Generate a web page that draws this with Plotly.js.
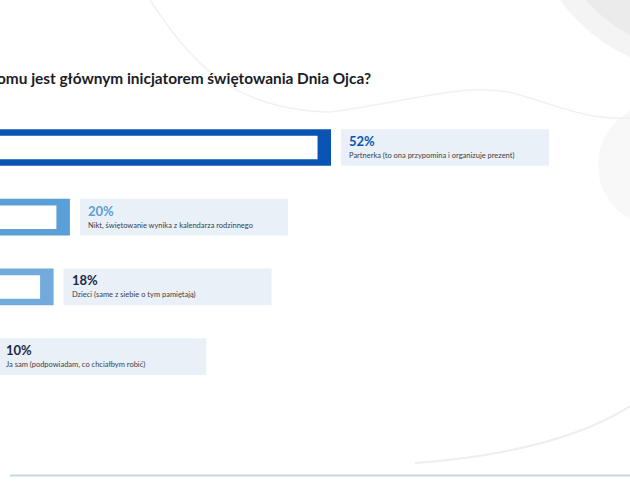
<!DOCTYPE html>
<html>
<head>
<meta charset="utf-8">
<script src="https://cdn.plot.ly/plotly-3.0.1.min.js"></script>
<style>html,body{margin:0;padding:0;background:#fff;}#chart{width:630px;height:500px;}</style>
</head>
<body>
<div id="chart"></div>
<script>
// ---- data ----
const titleText = "Komu jest głównym inicjatorem świętowania Dnia Ojca?";
const categories = [
  "Partnerka (to ona przypomina i organizuje prezent)",
  "Nikt, świętowanie wynika z kalendarza rodzinnego",
  "Dzieci (same z siebie o tym pamiętają)",
  "Ja sam (podpowiadam, co chciałbym robić)"
];
const values = [52, 20, 18, 10];
const valueLabels = values.map(v => v + "%");
const barColors = ["#0a55b3", "#5a9fd6", "#72aadc", "#8dbbe4"];
const pctColors = ["#0a55b3", "#5a9fd6", "#1b2b45", "#1b2b45"];

// ---- geometry helpers (px -> units) ----
const W = 630, H = 500;
const pxPerUnit = 8.16;
const zeroPx = -93.3;
const xr = [(0 - zeroPx) / pxPerUnit, (W - zeroPx) / pxPerUnit];
const rowTop = 147.5, rowStep = 69.7;
const yr = [(H - rowTop) / rowStep, (0 - rowTop) / rowStep];
const u = px => px / pxPerUnit;
const px = x => x / W, py = y => 1 - y / H;

const innerValues = values.map(v => v - u(13.5));
const boxBase = values.map(v => v + u(10));
const boxLen = values.map(() => u(208));

const FONT = "Lato, 'Noto Sans', sans-serif";

const traces = [
  {type: "bar", orientation: "h", y: categories, x: values, width: 0.527,
   marker: {color: barColors}, hoverinfo: "skip"},
  {type: "bar", orientation: "h", y: categories, x: innerValues, width: 0.337,
   marker: {color: "#ffffff"}, hoverinfo: "skip"},
  {type: "bar", orientation: "h", y: categories, x: boxLen, base: boxBase, width: 0.527,
   marker: {color: "#e9f0f7"}, hoverinfo: "skip"}
];

const annotations = [];
categories.forEach((c, i) => {
  annotations.push({x: boxBase[i] + u(6), y: c, xref: "x", yref: "y", xanchor: "left", yanchor: "middle",
    yshift: 6.5, text: "<b>" + valueLabels[i] + "</b>", showarrow: false,
    font: {family: FONT, size: 13, color: pctColors[i]}});
  annotations.push({x: boxBase[i] + u(6), y: c, xref: "x", yref: "y", xanchor: "left", yanchor: "middle",
    yshift: -8, text: c, showarrow: false,
    font: {family: FONT, size: 7.5, color: "#3a3f4a"}});
});
annotations.push({x: px(373), y: py(78), xref: "paper", yref: "paper", xanchor: "right", yanchor: "middle",
  text: "<b>" + titleText + "</b>", showarrow: false,
  font: {family: FONT, size: 15.4, color: "#1a1d26"}});

function circ(cx, cy, r, color) {
  return {type: "circle", xref: "paper", yref: "paper", layer: "below",
    x0: px(cx - r), x1: px(cx + r), y0: py(cy + r), y1: py(cy - r),
    fillcolor: color, line: {width: 0}};
}
function pth(d, color, w) {
  return {type: "path", xref: "paper", yref: "paper", layer: "below", path: d, line: {color: color, width: w}};
}
const P = (x, y) => px(x).toFixed(4) + "," + py(y).toFixed(4);

const shapes = [
  circ(700, -100, 172, "#f4f4f4"),
  circ(700, -100, 152, "#ebebeb"),
  circ(660, 165, 62, "#f8f8f8"),
  pth("M" + P(150, 0) + " C" + P(190, 60) + " " + P(230, 110) + " " + P(330, 112), "#f1f1f1", 1.5),
  pth("M" + P(330, 112) + " C" + P(420, 100) + " " + P(470, 80) + " " + P(520, 95) + " S" + P(590, 120) + " " + P(630, 118), "#f1f1f1", 1.5),
  pth("M" + P(415, 463) + " Q" + P(560, 452) + " " + P(632, 405), "#eeeeee", 2),
  {type: "line", xref: "paper", yref: "paper", x0: px(10), x1: px(630), y0: py(475.5), y1: py(475.5),
   line: {color: "#c9d8e2", width: 2}}
];

const layout = {
  width: W, height: H,
  margin: {l: 0, r: 0, t: 0, b: 0, pad: 0},
  paper_bgcolor: "#ffffff", plot_bgcolor: "rgba(0,0,0,0)",
  barmode: "overlay", showlegend: false,
  xaxis: {range: xr, showgrid: false, zeroline: false, showticklabels: false, showline: false, fixedrange: true},
  yaxis: {type: "category", range: yr, showgrid: false, zeroline: false, showticklabels: false, showline: false, fixedrange: true},
  annotations: annotations, shapes: shapes
};

Plotly.newPlot("chart", traces, layout, {displayModeBar: false, staticPlot: true});
</script>
</body>
</html>
